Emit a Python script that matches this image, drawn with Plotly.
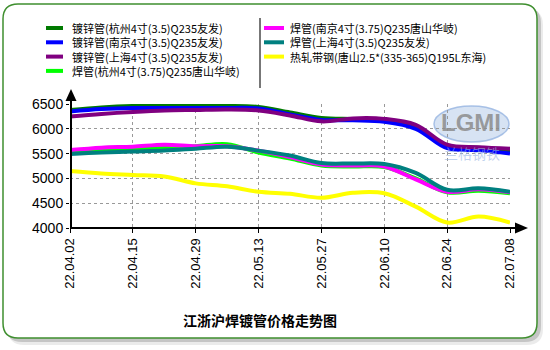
import plotly.graph_objects as go

# Weekly quote dates
dates = ["22.04.02", "22.04.08", "22.04.15", "22.04.22", "22.04.29", "22.05.06",
         "22.05.13", "22.05.20", "22.05.27", "22.06.02", "22.06.10", "22.06.17",
         "22.06.24", "22.07.01", "22.07.08"]
tick_labels = ["22.04.02", "22.04.15", "22.04.29", "22.05.13",
               "22.05.27", "22.06.10", "22.06.24", "22.07.08"]

# Prices (yuan/ton)
galv_hz = [6380, 6430, 6460, 6470, 6460, 6460, 6440, 6330, 6220, 6200, 6180, 6050, 5650, 5620, 5540]
galv_nj = [6350, 6400, 6420, 6420, 6420, 6420, 6410, 6290, 6180, 6170, 6140, 6000, 5610, 5570, 5500]
galv_sh = [6250, 6300, 6340, 6370, 6380, 6390, 6370, 6270, 6150, 6210, 6200, 6080, 5680, 5630, 5600]
weld_hz = [5560, 5580, 5600, 5620, 5650, 5690, 5520, 5400, 5260, 5240, 5230, 5000, 4720, 4750, 4700]
weld_nj = [5570, 5620, 5640, 5680, 5650, 5650, 5560, 5430, 5280, 5260, 5240, 4980, 4730, 4780, 4720]
weld_sh = [5490, 5520, 5540, 5560, 5600, 5640, 5560, 5460, 5310, 5300, 5290, 5110, 4770, 4800, 4730]
strip_ts = [5150, 5100, 5070, 5040, 4900, 4840, 4730, 4690, 4610, 4710, 4700, 4430, 4110, 4230, 4110]

series_names = [
    "镀锌管(杭州4寸(3.5)Q235友发)",
    "镀锌管(南京4寸(3.5)Q235友发)",
    "镀锌管(上海4寸(3.5)Q235友发)",
    "焊管(杭州4寸(3.75)Q235唐山华岐)",
    "焊管(南京4寸(3.75)Q235唐山华岐)",
    "焊管(上海4寸(3.5)Q235友发)",
    "热轧带钢(唐山2.5*(335-365)Q195L东海)",
]
series_values = [galv_hz, galv_nj, galv_sh, weld_hz, weld_nj, weld_sh, strip_ts]
series_colors = ["#007a00", "#0000ff", "#800080", "#00ff00", "#ff00ff", "#008080", "#ffff00"]

W, H = 550, 350
L, R, T, B = 70, 510, 104, 228


def px(x):
    return (x - L) / (R - L)


def py(y):
    return (B - y) / (B - T)


def rrect(x0, y0, x1, y1, r):
    return (f"M {px(x0 + r)},{py(y0)} L {px(x1 - r)},{py(y0)} "
            f"Q {px(x1)},{py(y0)} {px(x1)},{py(y0 + r)} "
            f"L {px(x1)},{py(y1 - r)} Q {px(x1)},{py(y1)} {px(x1 - r)},{py(y1)} "
            f"L {px(x0 + r)},{py(y1)} Q {px(x0)},{py(y1)} {px(x0)},{py(y1 - r)} "
            f"L {px(x0)},{py(y0 + r)} Q {px(x0)},{py(y0)} {px(x0 + r)},{py(y0)} Z")


FONT = "Liberation Sans, Arial, Noto Sans CJK SC, sans-serif"
CJK = "Noto Sans CJK SC, Liberation Sans, sans-serif"

fig = go.Figure()
for name, vals, col in zip(series_names, series_values, series_colors):
    fig.add_trace(go.Scatter(
        x=dates, y=vals, name=name, mode="lines",
        line=dict(color=col, width=4, shape="spline", smoothing=1.0),
        showlegend=False, hoverinfo="skip"))

shapes = []
# frame shadow and frame
shapes.append(dict(type="path", xref="paper", yref="paper", layer="below",
                   path=rrect(8, 9, 543, 345, 16), fillcolor="rgba(0,0,0,0.08)",
                   line=dict(width=0)))
shapes.append(dict(type="path", xref="paper", yref="paper", layer="below",
                   path=rrect(6, 7, 541, 342, 16), fillcolor="rgba(0,0,0,0.16)",
                   line=dict(width=0)))
shapes.append(dict(type="path", xref="paper", yref="paper", layer="below",
                   path=rrect(3, 4, 537, 338, 15), fillcolor="white",
                   line=dict(color="#3f8f2f", width=1.5)))
# legend column divider
shapes.append(dict(type="line", xref="paper", yref="paper", x0=px(260), x1=px(260),
                   y0=py(18), y1=py(88), line=dict(color="#777777", width=2)))

# axis lines with arrow heads
shapes.append(dict(type="line", xref="paper", yref="paper", x0=px(71), x1=px(71),
                   y0=py(229), y1=py(98), line=dict(color="black", width=2)))
shapes.append(dict(type="line", xref="paper", yref="paper", x0=px(70), x1=px(518),
                   y0=py(228), y1=py(228), line=dict(color="black", width=2)))
shapes.append(dict(type="path", xref="paper", yref="paper",
                   path=f"M {px(65.5)},{py(101)} L {px(71)},{py(89)} L {px(76.5)},{py(101)} Z",
                   fillcolor="black", line=dict(width=0)))
shapes.append(dict(type="path", xref="paper", yref="paper",
                   path=f"M {px(515)},{py(222.5)} L {px(528)},{py(228)} L {px(515)},{py(233.5)} Z",
                   fillcolor="black", line=dict(width=0)))

# watermark ellipse
shapes.append(dict(type="circle", xref="paper", yref="paper", layer="below",
                   x0=px(434), x1=px(509), y0=py(106), y1=py(142),
                   fillcolor="rgba(175,200,232,0.5)", line=dict(color="rgba(150,180,225,0.8)", width=1.5)))

annotations = []
# legend: colour samples plus one multi-line label block per column
LEG_SIZE = 11
row_gap = LEG_SIZE * 1.3
first_row = 28
columns = [(series_names[:4], series_colors[:4], 46, 63, 70),
           (series_names[4:], series_colors[4:], 264, 284, 288)]
for names, cols, x0, x1, xt in columns:
    for j, col in enumerate(cols):
        yy = first_row + j * row_gap
        shapes.append(dict(type="line", xref="paper", yref="paper", x0=px(x0), x1=px(x1),
                           y0=py(yy), y1=py(yy), line=dict(color=col, width=4)))
    mid = first_row + (len(names) - 1) * row_gap / 2
    annotations.append(dict(xref="paper", yref="paper", x=px(xt), y=py(mid),
                            xanchor="left", yanchor="middle", align="left", showarrow=False,
                            text="<br>".join(names),
                            font=dict(family=CJK, size=LEG_SIZE, color="black")))

# watermark text
annotations.append(dict(xref="paper", yref="paper", x=px(471), y=py(122), showarrow=False,
                        xanchor="center", yanchor="middle",
                        text="<b>LGMI</b>", font=dict(family=FONT, size=24, color="rgba(140,140,140,0.85)")))
annotations.append(dict(xref="paper", yref="paper", x=px(472), y=py(153), showarrow=False,
                        xanchor="center", yanchor="middle",
                        text="兰格钢铁", font=dict(family=CJK, size=14, color="rgba(150,180,225,0.6)")))
# title
annotations.append(dict(xref="paper", yref="paper", x=px(260), y=py(320), showarrow=False,
                        xanchor="center", yanchor="middle",
                        text="<b>江浙沪焊镀管价格走势图</b>",
                        font=dict(family=CJK, size=14, color="black")))

fig.update_layout(
    width=W, height=H,
    margin=dict(l=L, r=W - R, t=T, b=H - B, pad=0),
    paper_bgcolor="white", plot_bgcolor="rgba(0,0,0,0)",
    shapes=shapes, annotations=annotations, showlegend=False,
    font=dict(family=FONT, size=13, color="black"),
)
fig.update_xaxes(
    type="category", range=[0, len(dates) - 1],
    tickmode="array", tickvals=tick_labels, ticktext=tick_labels,
    tickangle=-90, ticks="outside", ticklen=4, tickcolor="black",
    showgrid=True, gridcolor="#999999", griddash="dot", gridwidth=1,
    showline=False, zeroline=False, tickfont=dict(family=FONT, size=13),
)
fig.update_yaxes(
    range=[4000, 6500], tickvals=[4000, 4500, 5000, 5500, 6000, 6500],
    ticks="outside", ticklen=3, tickcolor="black",
    showgrid=True, gridcolor="#999999", griddash="dot", gridwidth=1,
    showline=False, zeroline=False, tickfont=dict(family=FONT, size=14),
)

fig.write_html("out.html")
